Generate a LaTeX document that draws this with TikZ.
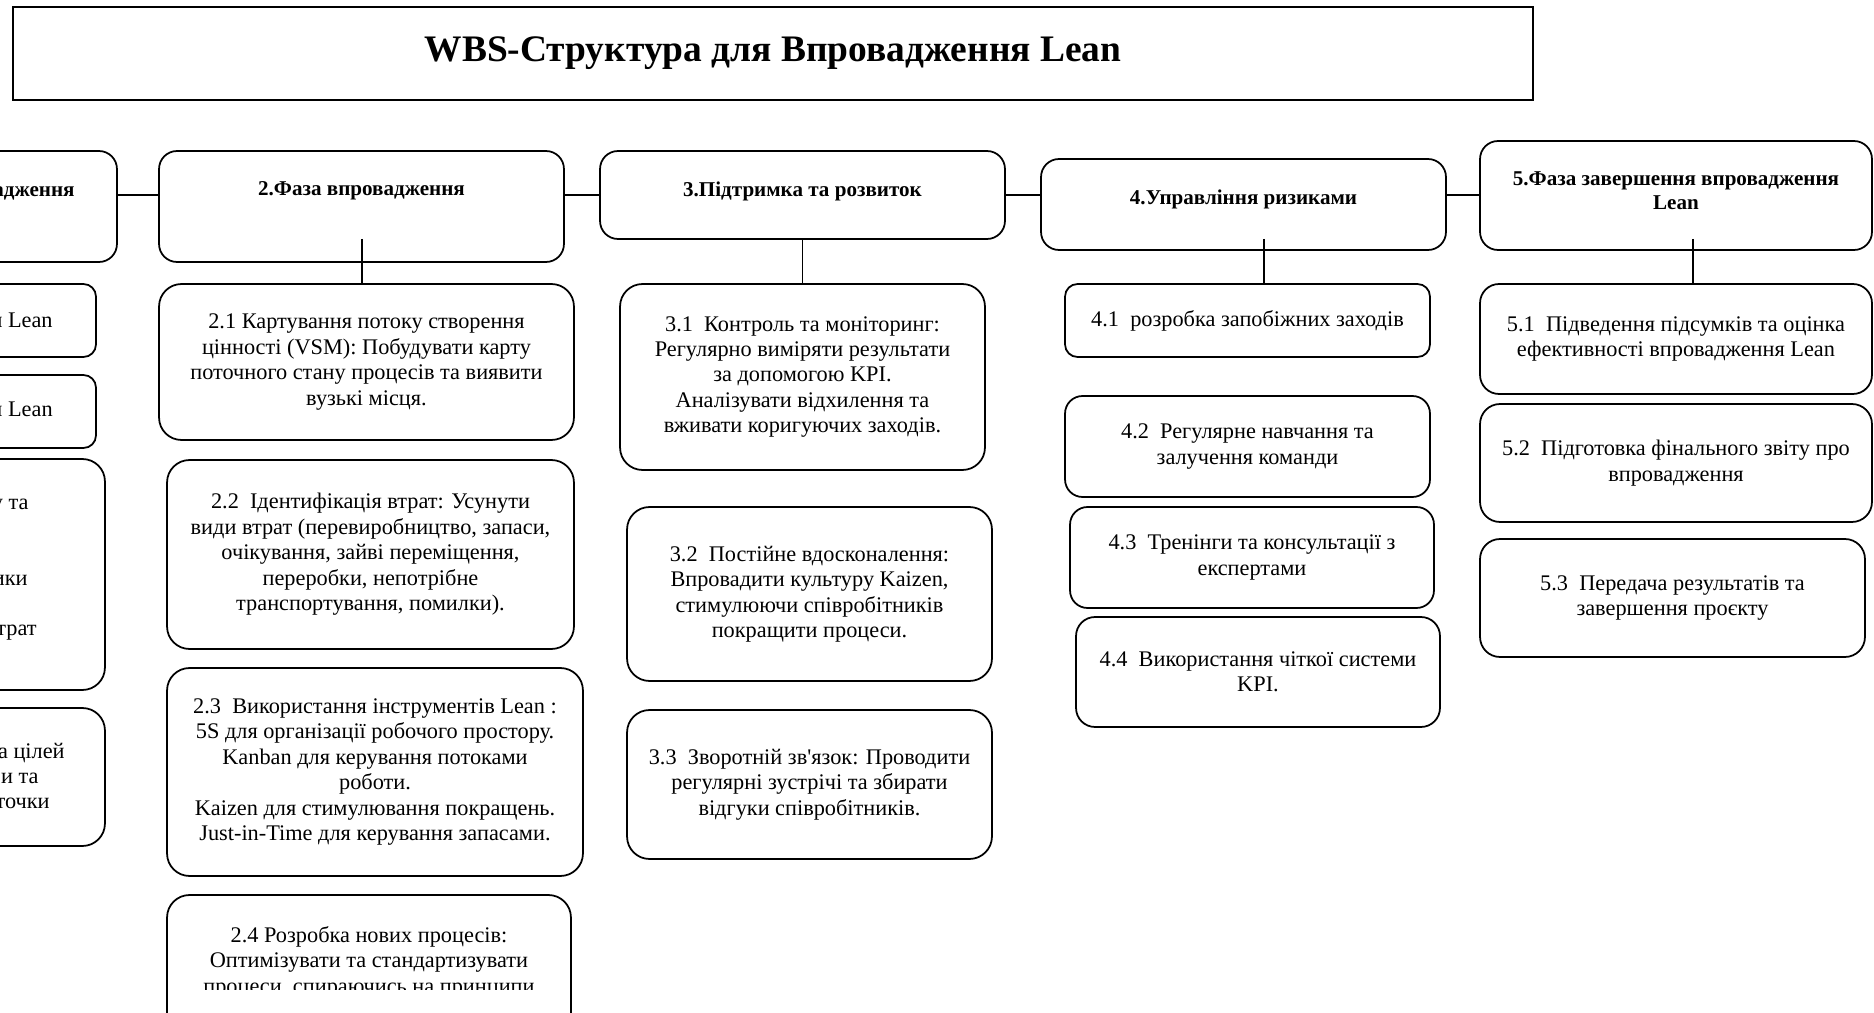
\documentclass[tikz,border=0pt]{standalone}
\usepackage{fontspec}
\setmainfont{Liberation Serif}
\tikzstyle{heading} = [draw, line width=1.4pt, inner sep=0pt, font=\fontsize{21.3}{25}\selectfont\bfseries]
\tikzstyle{phase} = [draw, line width=1pt, rounded corners=0.36cm, inner sep=0pt]
\tikzstyle{phasetext} = [anchor=north, label distance=-0.63cm, inner sep=0pt, align=center, font=\fontsize{12}{13.5}\selectfont\bfseries]
\tikzstyle{task} = [draw, line width=1pt, rounded corners=0.45cm, inner sep=0pt, align=center, font=\fontsize{12.7}{14.5}\selectfont]
\tikzstyle{cut} = [anchor=mid east, inner sep=0pt, font=\fontsize{12.7}{14.5}\selectfont]
\tikzstyle{link} = [line width=1pt]

\begin{document}
\begin{tikzpicture}[x=0.02cm, y=-0.02cm]
\useasboundingbox (0,0) rectangle (1874,1013);
\clip (0,0) rectangle (1874,1013);

\node[heading, minimum width=30.4cm, minimum height=1.86cm] (title) at (773,53.5) {WBS-Структура для Впровадження Lean};

\node[phase, minimum width=8.1cm, minimum height=2.22cm] (f_1) at (-85.5,206.5) {};
\node[cut, font=\fontsize{12}{14.2}\selectfont\bfseries] (f_1t) at (75,192) {адження};
\node[phase, minimum width=8.1cm, minimum height=2.22cm, label={[phasetext]north:2.Фаза впровадження}] (f_2) at (361.5,206.5) {};
\node[phase, minimum width=8.1cm, minimum height=1.76cm, label={[phasetext]north:3.Підтримка та розвиток}] (f_3) at (802.5,195) {};
\node[phase, minimum width=8.1cm, minimum height=1.82cm, label={[phasetext]north:4.Управління ризиками}] (f_4) at (1243.5,204.5) {};
\node[phase, minimum width=7.84cm, minimum height=2.18cm, label={[phasetext]north:{5.Фаза завершення впровадження\\ Lean}}] (f_5) at (1676,195.5) {};

\draw[link] (f_1.east |- f_3.center) -- (f_2.west |- f_3.center);
\draw[link] (f_2.east |- f_3.center) -- (f_3.west);
\draw[link] (f_3.east) -- (f_4.west |- f_3.center);
\draw[link] (f_4.east |- f_3.center) -- (f_5.west |- f_3.center);

\node[task, minimum width=8cm, minimum height=1.46cm, rounded corners=0.25cm] (s_11) at (-104,320.5) {};
\node[cut] (s_11t) at (53,323) {и Lean};
\node[task, minimum width=8cm, minimum height=1.46cm, rounded corners=0.25cm] (s_12) at (-104,411.5) {};
\node[cut] (s_12t) at (53,412) {я Lean};
\node[task, minimum width=8.2cm, minimum height=4.62cm] (s_13) at (-100,574.5) {};
\node[cut] (s_13a) at (29,505) {у та};
\node[cut] (s_13b) at (28,581) {ики};
\node[cut] (s_13c) at (37,631) {трат};
\node[task, minimum width=8.2cm, minimum height=2.76cm] (s_14) at (-100,777) {};
\node[cut] (s_14a) at (65,754) {та цілей};
\node[cut] (s_14b) at (39,779) {и та};
\node[cut] (s_14c) at (50,804) {точки};

\node[task, minimum width=8.3cm, minimum height=3.12cm] (s_21) at (366.5,362) {2.1 Картування потоку створення\\ цінності (VSM): Побудувати карту\\ поточного стану процесів та виявити\\ вузькі місця.};
\node[task, minimum width=8.14cm, minimum height=3.78cm] (s_22) at (370.5,554.5) {2.2~~Ідентифікація втрат: Усунути\\ види втрат (перевиробництво, запаси,\\ очікування, зайві переміщення,\\ переробки, непотрібне\\ транспортування, помилки).};
\node[task, minimum width=8.32cm, minimum height=4.16cm] (s_23) at (375,772) {2.3~~Використання інструментів Lean :\\ 5S для організації робочого простору.\\ Kanban для керування потоками\\ роботи.\\ Kaizen для стимулювання покращень.\\ Just-in-Time для керування запасами.};
\node[task, minimum width=8.08cm, minimum height=2.8cm] (s_24) at (369,965) {};
\begin{scope}
\clip (s_24.north west) rectangle (s_24.east |- 0,989);
\node[task, draw=none] (s_24t) at (369,962) {2.4 Розробка нових процесів:\\ Оптимізувати та стандартизувати\\ процеси, спираючись на принципи};
\end{scope}

\node[task, minimum width=7.3cm, minimum height=3.72cm] (s_31) at (802.5,377) {3.1~~Контроль та моніторинг:\\ Регулярно виміряти результати\\ за допомогою KPI.\\ Аналізувати відхилення та\\ вживати коригуючих заходів.};
\node[task, minimum width=7.3cm, minimum height=3.48cm] (s_32) at (809.5,594) {3.2~~Постійне вдосконалення:\\ Впровадити культуру Kaizen,\\ стимулюючи співробітників\\ покращити процеси.};
\node[task, minimum width=7.3cm, minimum height=2.98cm] (s_33) at (809.5,784.5) {3.3~~Зворотній зв\textquotesingle язок: Проводити\\ регулярні зустрічі та збирати\\ відгуки співробітників.};

\node[task, minimum width=7.3cm, minimum height=1.46cm, rounded corners=0.25cm] (s_41) at (1247.5,320.5) {4.1~~розробка запобіжних заходів};
\node[task, minimum width=7.3cm, minimum height=2.02cm, rounded corners=0.35cm] (s_42) at (1247.5,446.5) {4.2~~Регулярне навчання та\\ залучення команди};
\node[task, minimum width=7.28cm, minimum height=2.02cm, rounded corners=0.35cm] (s_43) at (1252,557.5) {4.3~~Тренінги та консультації з\\ експертами};
\node[task, minimum width=7.28cm, minimum height=2.2cm, rounded corners=0.38cm] (s_44) at (1258,672) {4.4~~Використання чіткої системи\\ KPI.};

\node[task, minimum width=7.84cm, minimum height=2.2cm, rounded corners=0.38cm] (s_51) at (1676,339) {5.1~~Підведення підсумків та оцінка\\ ефективності впровадження Lean};
\node[task, minimum width=7.84cm, minimum height=2.36cm, rounded corners=0.4cm] (s_52) at (1676,463) {5.2~~Підготовка фінального звіту про\\ впровадження};
\node[task, minimum width=7.7cm, minimum height=2.36cm, rounded corners=0.4cm] (s_53) at (1672.5,598) {5.3~~Передача результатів та\\ завершення проєкту};

\coordinate (k_2) at (362,239);
\coordinate (k_4) at (1264,239);
\coordinate (k_5) at (1693,239);
\draw[link] (k_2) -- (k_2 |- s_21.north);
\draw[link] (f_3.south) -- (s_31.north);
\draw[link] (k_4) -- (k_4 |- s_41.north);
\draw[link] (k_5) -- (k_5 |- s_51.north);

\end{tikzpicture}
\end{document}
